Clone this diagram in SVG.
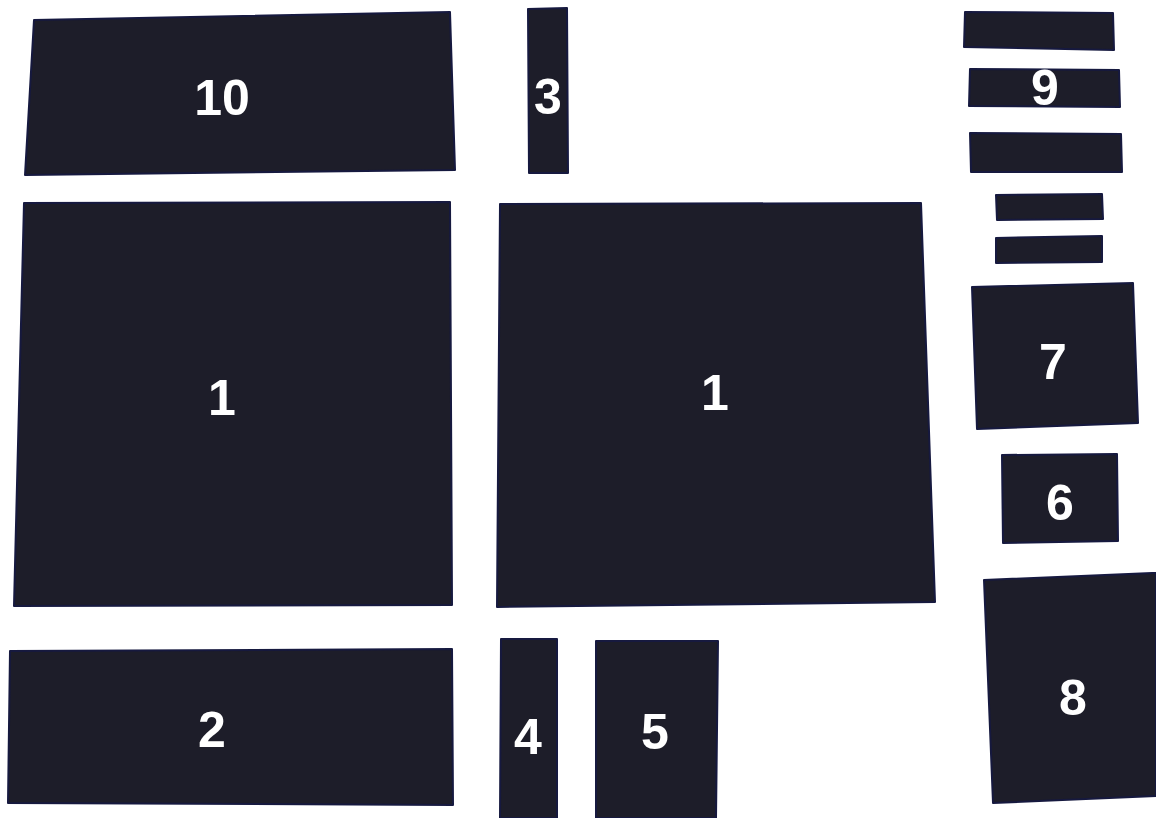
<svg xmlns="http://www.w3.org/2000/svg" width="1156" height="818" viewBox="0 0 1156 818">
<style>
.p{fill:#1d1d29;stroke:#16193f;stroke-width:2;stroke-linejoin:round}
.t{fill:#ffffff;font-family:"Liberation Sans",Arial,sans-serif;font-weight:bold;font-size:50px;text-anchor:middle;dominant-baseline:central}
</style>
<rect x="0" y="0" width="1156" height="818" fill="#ffffff"/>
<g id="piece10"><polygon class="p" points="34,20 450,12 455,170 25,175"/><text class="t" x="222" y="98">10</text></g>
<g id="piece3"><polygon class="p" points="528,9 567,8 568,173 529,173"/><text class="t" x="548" y="97">3</text></g>
<g id="piece9">
<polygon class="p" points="965,12 1113,13 1114,50 964,47"/>
<polygon class="p" points="970,69 1119,70 1120,107 969,106"/><text class="t" x="1045" y="88">9</text>
<polygon class="p" points="970,133 1121,134 1122,172 971,172"/>
<polygon class="p" points="996,195 1102,194 1103,219 997,220"/>
<polygon class="p" points="996,238 1102,236 1102,262 996,263"/>
</g>
<g id="piece7"><polygon class="p" points="972,287 1133,283 1138,423 977,429"/><text class="t" x="1053" y="362">7</text></g>
<g id="piece6"><polygon class="p" points="1002,455 1117,454 1118,541 1003,543"/><text class="t" x="1060" y="503">6</text></g>
<g id="piece8"><polygon class="p" points="984,580 1152,573 1156,573 1156,796 993,803"/><text class="t" x="1073" y="698">8</text></g>
<g id="piece1a"><polygon class="p" points="24,203 450,202 452,605 14,606"/><text class="t" x="222" y="398">1</text></g>
<g id="piece1b"><polygon class="p" points="500,204 921,203 935,602 497,607"/><text class="t" x="715" y="393">1</text></g>
<g id="piece2"><polygon class="p" points="10,651 452,649 453,805 8,803"/><text class="t" x="212" y="730">2</text></g>
<g id="piece4"><polygon class="p" points="501,639 557,639 557,818 500,818"/><text class="t" x="528" y="737">4</text></g>
<g id="piece5"><polygon class="p" points="596,641 718,641 716,818 596,818"/><text class="t" x="655" y="732">5</text></g>
</svg>
